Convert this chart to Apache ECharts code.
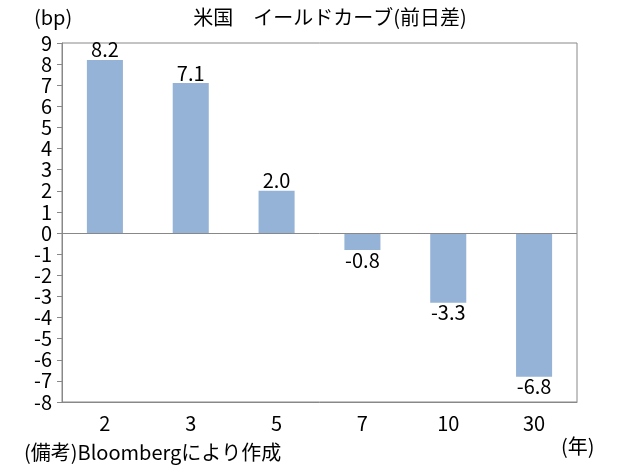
<!DOCTYPE html>
<html>
<head>
<meta charset="utf-8">
<script src="https://cdn.jsdelivr.net/npm/echarts@6/dist/echarts.min.js"></script>
<style>
  html, body { margin: 0; padding: 0; background: #fff; }
  #chart { width: 630px; height: 473px; }
</style>
</head>
<body>
<div id="chart"></div>
<script>
// 年限
const maturities = ['2', '3', '5', '7', '10', '30'];
// 前日差 (bp)
const changes = [8.2, 7.1, 2.0, -0.8, -3.3, -6.8];

const fontJP = '"Noto Sans CJK JP", sans-serif';
const chart = echarts.init(document.getElementById('chart'), null, { renderer: 'canvas' });

let option = {
    backgroundColor: '#fff',
    textStyle: { fontFamily: fontJP },
    grid: {
        left: 62,
        right: 53,
        top: 43,
        bottom: 71,
        show: true,
        borderColor: '#888',
        borderWidth: 1
    },
    graphic: [
        // タイトル・単位・出所
        { type: 'text', x: 330, y: 7, style: { text: '米国　イールドカーブ(前日差)', fontSize: 20, fill: '#000', fontFamily: fontJP, align: 'center' } },
        { type: 'text', x: 34, y: 7, style: { text: '(bp)', fontSize: 20, fill: '#000', fontFamily: fontJP } },
        { type: 'text', x: 561, y: 436, style: { text: '(年)', fontSize: 20, fill: '#000', fontFamily: fontJP } },
        { type: 'text', x: 24, y: 442, style: { text: '(備考)Bloombergにより作成', fontSize: 20, fill: '#000', fontFamily: fontJP } }
    ],
    xAxis: {
        type: 'category',
        data: maturities,
        axisLine: { onZero: false, lineStyle: { color: '#888' } },
        axisTick: { show: false },
        axisLabel: { color: '#000', fontSize: 20, margin: 11 }
    },
    yAxis: {
        type: 'value',
        min: -8,
        max: 9,
        interval: 1,
        splitLine: { show: false },
        axisLine: { show: true, lineStyle: { color: '#888' } },
        axisTick: { show: true, inside: false, length: 5, lineStyle: { color: '#888' } },
        axisLabel: { color: '#000', fontSize: 20, margin: 10 }
    },
    series: [
        {
            type: 'bar',
            data: changes.map(v => ({
                value: v,
                label: { position: v >= 0 ? 'top' : 'bottom' }
            })),
            barWidth: '42%',
            itemStyle: { color: '#95B3D7' },
            label: {
                show: true,
                color: '#000',
                fontSize: 20,
                distance: 0,
                formatter: p => p.value.toFixed(1)
            },
            markLine: {
                silent: true,
                symbol: 'none',
                label: { show: false },
                lineStyle: { color: '#888', type: 'solid', width: 1 },
                data: [{ yAxis: 0 }]
            }
        }
    ]
};

chart.setOption(option);
</script>
</body>
</html>
